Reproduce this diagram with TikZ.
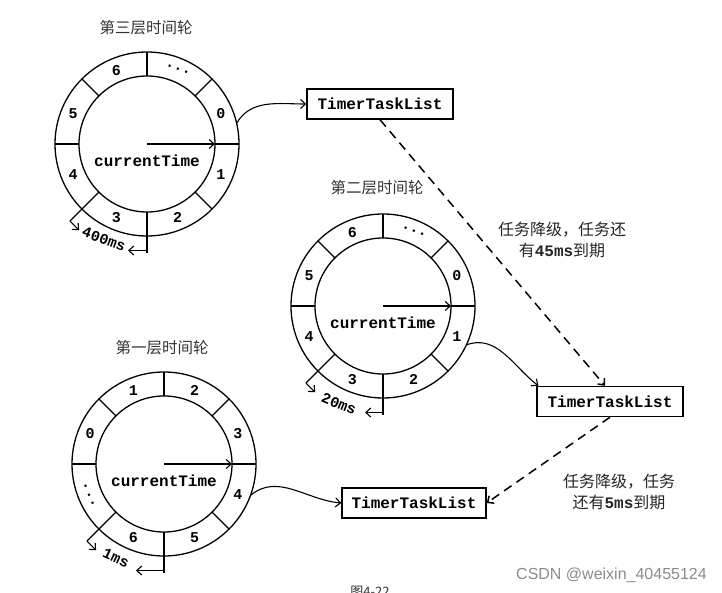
\documentclass[tikz,border=0pt]{standalone}
\usepackage{fontspec}
\setmainfont{Liberation Serif}
\setmonofont{Liberation Mono}
\newfontfamily\cjk{Noto Sans CJK SC}
\newfontfamily\wmfont{Liberation Sans}
\usetikzlibrary{arrows.meta}
\tikzset{
  arrowtip/.style={-{Straight Barb[length=5pt,width=9pt]}},
  outerc/.style={circle, draw, line width=1.3pt, minimum size=184pt, inner sep=0pt, outer sep=0pt},
  innerc/.style={circle, draw, line width=1.3pt, minimum size=136pt, inner sep=0pt, outer sep=0pt},
  ringline/.style={line width=1.2pt},
  hand/.style={line width=1.1pt, arrowtip},
  ctime/.style={font=\fontsize{16}{16}\selectfont\ttfamily\bfseries, inner sep=0pt},
  seg/.style={font=\fontsize{15}{15}\selectfont\ttfamily\bfseries, inner sep=0pt},
  wtitle/.style={font=\fontsize{15.5}{15.5}\selectfont\cjk, text=black!80, inner sep=0pt},
  dimtext/.style={font=\fontsize{15}{15}\selectfont\ttfamily\bfseries, inner sep=0pt},
  taskbox/.style={draw, line width=1.4pt, minimum width=146pt, minimum height=30pt, inner sep=0pt, font=\fontsize{16}{16}\selectfont\ttfamily\bfseries},
  conn/.style={line width=1.1pt, arrowtip},
  dconn/.style={line width=1.5pt, dash pattern=on 9pt off 6pt, arrowtip},
  notetext/.style={font=\fontsize{16}{21}\selectfont\cjk, align=center, text=black!85, inner sep=0pt},
}
% #1 name, #2 centre, #3 length of the right dimension arrow
\newcommand\drawring[3]{%
  \coordinate (#1c) at (#2);
  \node[outerc] (#1o) at (#1c) {};
  \node[innerc] (#1i) at (#1c) {};
  \foreach \a in {0,45,...,315}{\draw[ringline] (#1i.\a) -- (#1o.\a);}
  \draw[hand] (#1c) -- (#1i.0);
  \node[ctime] (#1t) at ([yshift=-17pt]#1c) {currentTime};
  \draw[ringline] (#1o.225) -- ([shift={(225:109)}]#1c) coordinate (#1e1);
  \draw[ringline] (#1o.270) -- ([shift={(270:109)}]#1c) coordinate (#1e2);
  \draw[hand] (#1e1) -- ++(-45:13);
  \draw[hand] ([yshift=2.5pt]#1e2) -- ++(-#3,0);
}
\begin{document}
\begin{tikzpicture}[x=1pt,y=1pt]
\clip (0,0) rectangle (722,592);
\fill[white] (0,0) rectangle (722,592);

% ---- third-level wheel
\drawring{w3}{147,448}{19}
\node[wtitle] (w3title) at (146,564) {第三层时间轮};
\node[seg] (w3s0) at ([shift={(22.5:80)}]w3c) {0};
\node[seg] (w3s1) at ([shift={(-22.5:80)}]w3c) {1};
\node[seg] (w3s2) at ([shift={(-67.5:80)}]w3c) {2};
\node[seg] (w3s3) at ([shift={(-112.5:80)}]w3c) {3};
\node[seg] (w3s4) at ([shift={(-157.5:80)}]w3c) {4};
\node[seg] (w3s5) at ([shift={(157.5:80)}]w3c) {5};
\node[seg] (w3s6) at ([shift={(112.5:80)}]w3c) {6};
\node[seg, rotate=-22.5] (w3sd) at ([shift={(67.5:81)}]w3c) {...};
\node[dimtext, rotate=-20] (w3dim) at ([shift={(-43,-95)}]w3c) {400ms};

% ---- second-level wheel
\drawring{w2}{383,286}{18}
\node[wtitle] (w2title) at (377,404) {第二层时间轮};
\node[seg] (w2s0) at ([shift={(22.5:80)}]w2c) {0};
\node[seg] (w2s1) at ([shift={(-22.5:80)}]w2c) {1};
\node[seg] (w2s2) at ([shift={(-67.5:80)}]w2c) {2};
\node[seg] (w2s3) at ([shift={(-112.5:80)}]w2c) {3};
\node[seg] (w2s4) at ([shift={(-157.5:80)}]w2c) {4};
\node[seg] (w2s5) at ([shift={(157.5:80)}]w2c) {5};
\node[seg] (w2s6) at ([shift={(112.5:80)}]w2c) {6};
\node[seg, rotate=-22.5] (w2sd) at ([shift={(67.5:81)}]w2c) {...};
\node[dimtext, rotate=-22] (w2dim) at ([shift={(-44,-98)}]w2c) {20ms};

% ---- first-level wheel
\drawring{w1}{164,128}{28}
\node[wtitle] (w1title) at (162,244) {第一层时间轮};
\node[seg] (w1s0) at ([shift={(157.5:80)}]w1c) {0};
\node[seg] (w1s1) at ([shift={(112.5:80)}]w1c) {1};
\node[seg] (w1s2) at ([shift={(67.5:80)}]w1c) {2};
\node[seg] (w1s3) at ([shift={(22.5:80)}]w1c) {3};
\node[seg] (w1s4) at ([shift={(-22.5:80)}]w1c) {4};
\node[seg] (w1s5) at ([shift={(-67.5:80)}]w1c) {5};
\node[seg] (w1s6) at ([shift={(-112.5:80)}]w1c) {6};
\node[seg, rotate=-67.5] (w1sd) at ([shift={(-157.5:81)}]w1c) {...};
\node[dimtext, rotate=-25] (w1dim) at ([shift={(-48,-94)}]w1c) {1ms};

% ---- task lists
\node[taskbox] (b1) at (380,488) {TimerTaskList};
\node[taskbox] (b2) at (610,190.5) {TimerTaskList};
\node[taskbox, minimum width=144pt] (b3) at (414,89) {TimerTaskList};

% ---- notes
\node[notetext] (n1) at (562,352.5) {任务降级，任务还\\有{\ttfamily\bfseries 45ms}到期};
\node[notetext] (n2) at (619,100) {任务降级，任务\\还有{\ttfamily\bfseries 5ms}到期};

% ---- connectors
\draw[conn] (w3o.13) to[out=60,in=180] (b1.west);
\draw[dconn] (b1.south) -- ([xshift=-5pt]b2.north);
\draw[conn] (w2o.-25) to[out=20,in=142] ([xshift=2pt]b2.north west);
\draw[dconn] (b2.south) -- (b3.east);
\draw[conn] (w1o.-20) to[out=40,in=175] (b3.west);

% ---- caption (cut off at the lower edge, as in the reference) and watermark
\node[font=\fontsize{13}{13}\selectfont\cjk, text=black!80, inner sep=0pt, anchor=north] (cap) at (370,6) {图4-22};
\node[font=\fontsize{16}{16}\selectfont\wmfont, text=black!45, inner sep=0pt] (wm) at (611.5,17) {CSDN @weixin\_40455124};
\end{tikzpicture}
\end{document}
